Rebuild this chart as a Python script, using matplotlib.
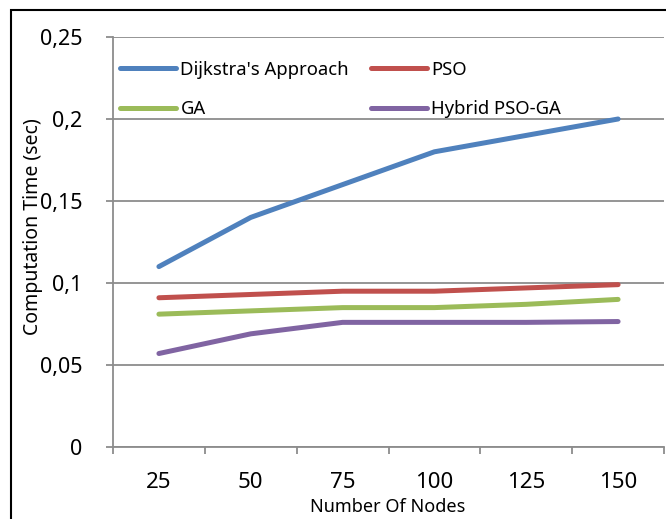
import matplotlib
matplotlib.use("Agg")
import matplotlib.pyplot as plt
from matplotlib.patches import Rectangle
from matplotlib.ticker import FuncFormatter, FixedLocator

# ----------------------------------------------------------
# Data
# ----------------------------------------------------------

nodes = ["25", "50", "75", "100", "125", "150"]

dijkstra = [0.110, 0.140, 0.160, 0.180, 0.190, 0.200]
pso = [0.091, 0.093, 0.095, 0.095, 0.097, 0.099]
ga = [0.081, 0.083, 0.085, 0.085, 0.087, 0.090]
hybrid = [0.057, 0.069, 0.076, 0.076, 0.076, 0.0765]

series = [
    ("Dijkstra's Approach", dijkstra, "#4F81BD"),
    ("PSO", pso, "#C0504D"),
    ("GA", ga, "#9BBB59"),
    ("Hybrid PSO-GA", hybrid, "#8064A2"),
]

plt.rcParams["font.family"] = ["Noto Sans", "DejaVu Sans"]

fig = plt.figure(figsize=(6.66, 5.19), dpi=100)
ax = fig.add_axes([113 / 666, 1 - 447 / 519, 551 / 666, 410 / 519])

# outer chart frame
fig.patches.append(Rectangle((11 / 666, -0.1), 1.2, 1 - 10 / 519 + 0.1,
                             transform=fig.transFigure, fill=False,
                             edgecolor="black", linewidth=1.5))

x = list(range(len(nodes)))
lines = {}
for name, vals, color in series:
    lines[name], = ax.plot(x, vals, color=color, linewidth=3.6, label=name,
                           solid_capstyle="round", solid_joinstyle="round",
                           zorder=3)

ax.set_xlim(-0.5, len(nodes) - 0.5)
ax.set_ylim(0, 0.25)

grid_col = "#8C8C8C"
ax.set_yticks([0, 0.05, 0.1, 0.15, 0.2, 0.25])
ax.yaxis.set_major_formatter(FuncFormatter(
    lambda v, p: "0" if v == 0 else f"{v:g}".replace(".", ",")))
ax.grid(axis="y", color=grid_col, linewidth=1.3)
ax.set_axisbelow(True)

ax.set_xticks(x)
ax.set_xticklabels(nodes)
ax.xaxis.set_minor_locator(FixedLocator([i - 0.5 for i in range(len(nodes) + 1)]))

ax.tick_params(axis="x", which="major", length=0, pad=18, labelsize=16)
ax.tick_params(axis="x", which="minor", length=5, width=1.3, color=grid_col)
ax.tick_params(axis="y", length=5, width=1.3, color=grid_col, pad=17,
               labelsize=15.5)

for side in ["top", "right"]:
    ax.spines[side].set_visible(False)
for side in ["left", "bottom"]:
    ax.spines[side].set_color(grid_col)
    ax.spines[side].set_linewidth(1.3)

fig.text(388 / 666, 1 - 507 / 519, "Number Of Nodes", ha="center",
         va="center", fontsize=13)
fig.text(33 / 666, 1 - 227 / 519, "Computation Time (sec)", ha="center",
         va="center", rotation=90, fontsize=14)

# legend filled column-wise, so order handles to read row by row
order = ["Dijkstra's Approach", "GA", "PSO", "Hybrid PSO-GA"]
ax.legend([lines[n] for n in order], order, loc="upper left",
          bbox_to_anchor=(0.0, 0.96), ncol=2,
          frameon=False, fontsize=13.3, handlelength=3.0,
          handletextpad=0.25, columnspacing=1.2, labelspacing=1.15,
          borderaxespad=0.0)

fig.savefig("out.png", dpi=100)
